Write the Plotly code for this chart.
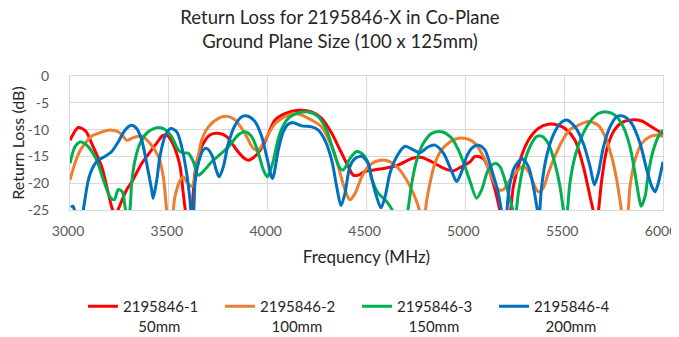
import plotly.graph_objects as go

# ---------------- data ----------------
red_f = [3000, 3042, 3080, 3110, 3160, 3194, 3216, 3230, 3245, 3265, 3290, 3312, 3363, 3413, 3445, 3470,
         3495, 3520, 3540, 3557, 3573, 3585, 3600, 3615, 3632, 3649, 3674, 3708, 3750, 3793, 3843, 3880,
         3902, 3944, 3986, 4037, 4088, 4155, 4223, 4273, 4324, 4366, 4408, 4433, 4459, 4492, 4543, 4594,
         4661, 4729, 4779, 4830, 4889, 4939, 4982, 5024, 5049, 5091, 5125, 5159, 5176, 5195, 5215, 5228,
         5243, 5277, 5319, 5369, 5420, 5470, 5504, 5555, 5597, 5631, 5648, 5660, 5673, 5690, 5715, 5749,
         5791, 5842, 5892, 5943, 6000]
red_db = [-12.0, -9.6, -10.3, -12.6, -16.9, -21.9, -25.0, -25.8, -24.8, -23.0, -21.0, -19.8, -16.3, -13.8, -12.2, -11.1,
          -11.2, -12.6, -14.5, -16.9, -21.9, -25.3, -27.5, -25.3, -18.1, -15.0, -12.6, -11.0, -10.7, -11.3, -13.8, -15.3,
          -15.7, -14.7, -12.3, -8.2, -7.0, -6.4, -6.7, -7.9, -10.7, -13.8, -16.9, -18.5, -18.5, -17.8, -17.5, -17.2,
          -16.6, -15.4, -15.2, -16.0, -17.2, -17.7, -16.9, -16.0, -15.0, -15.4, -18.1, -22.5, -25.3, -28.0, -27.0, -25.3,
          -20.6, -15.7, -12.0, -9.8, -9.0, -9.2, -9.8, -12.0, -16.9, -22.5, -25.3, -28.0, -25.3, -19.4, -13.8, -10.4,
          -8.7, -8.2, -8.4, -9.5, -10.8]

orange_f = [3000, 3025, 3050, 3076, 3110, 3143, 3194, 3244, 3270, 3287, 3320, 3363, 3405, 3447, 3472, 3489,
            3500, 3515, 3531, 3557, 3573, 3590, 3615, 3624, 3640, 3666, 3700, 3750, 3793, 3835, 3885, 3927,
            3953, 3986, 4037, 4104, 4155, 4206, 4273, 4324, 4357, 4391, 4416, 4442, 4476, 4509, 4543, 4594,
            4619, 4661, 4703, 4737, 4762, 4780, 4795, 4805, 4821, 4846, 4880, 4922, 4965, 5015, 5049, 5091,
            5133, 5167, 5192, 5226, 5268, 5293, 5319, 5352, 5369, 5394, 5420, 5453, 5487, 5529, 5555, 5622,
            5673, 5707, 5740, 5766, 5782, 5800, 5816, 5833, 5858, 5892, 5934, 5976, 6000]
orange_db = [-19.4, -16.3, -14.0, -12.6, -11.2, -10.7, -10.1, -10.4, -11.3, -12.0, -11.5, -11.2, -12.6, -15.0, -18.8, -25.0,
             -28.0, -27.0, -22.5, -19.5, -18.8, -19.7, -20.6, -20.2, -16.9, -12.0, -9.5, -7.9, -7.5, -8.2, -10.7, -13.5,
             -13.8, -12.0, -8.9, -7.3, -7.1, -7.9, -9.5, -13.2, -16.9, -21.2, -23.1, -21.9, -18.8, -16.9, -16.0, -15.7,
             -16.0, -17.2, -19.4, -21.9, -24.3, -26.5, -25.5, -23.1, -20.0, -16.3, -13.8, -12.3, -11.6, -11.8, -12.6, -15.0,
             -18.8, -21.2, -21.2, -19.4, -17.5, -16.9, -17.8, -20.6, -21.6, -20.9, -18.1, -15.0, -12.3, -10.0, -9.5, -8.5,
             -9.2, -11.3, -15.0, -19.4, -23.1, -26.5, -26.5, -20.6, -15.7, -12.6, -11.3, -11.0, -11.3]

green_f = [3000, 3025, 3051, 3070, 3093, 3135, 3169, 3202, 3224, 3244, 3265, 3278, 3290, 3303, 3312, 3329,
           3354, 3396, 3447, 3481, 3514, 3548, 3573, 3599, 3624, 3649, 3674, 3717, 3767, 3809, 3851, 3885,
           3919, 3953, 3978, 3998, 4015, 4029, 4062, 4104, 4155, 4206, 4256, 4298, 4332, 4366, 4383, 4416,
           4450, 4484, 4509, 4526, 4560, 4594, 4619, 4636, 4660, 4690, 4708, 4729, 4754, 4787, 4830, 4880,
           4931, 4965, 4998, 5024, 5057, 5083, 5116, 5150, 5175, 5200, 5226, 5243, 5252, 5268, 5293, 5327,
           5361, 5386, 5420, 5453, 5479, 5496, 5505, 5515, 5529, 5555, 5589, 5631, 5673, 5715, 5757, 5799,
           5833, 5858, 5875, 5889, 5909, 5926, 5951, 5985, 6000]
green_db = [-16.3, -13.2, -12.3, -12.5, -13.2, -15.7, -19.4, -22.5, -23.1, -21.2, -21.6, -24.3, -27.0, -25.0, -20.0, -15.7,
            -12.6, -10.4, -9.6, -10.0, -11.3, -13.8, -14.4, -14.4, -16.0, -18.5, -17.8, -16.0, -14.4, -12.9, -11.0, -10.4,
            -11.3, -14.4, -17.5, -18.8, -17.5, -15.7, -10.7, -7.9, -6.9, -6.7, -7.6, -10.1, -13.8, -17.2, -17.5, -15.4,
            -14.1, -14.7, -16.3, -19.1, -21.9, -23.1, -24.3, -25.5, -28.0, -28.0, -25.3, -20.0, -15.7, -12.6, -10.7, -10.4,
            -11.6, -13.8, -16.9, -19.7, -22.8, -21.2, -17.5, -16.3, -16.9, -19.4, -23.1, -25.3, -26.5, -21.9, -16.9, -13.2,
            -11.3, -11.2, -12.6, -16.3, -20.6, -25.0, -27.0, -25.5, -20.0, -15.0, -11.3, -8.5, -7.0, -6.7, -7.3, -9.5,
            -13.2, -18.1, -21.9, -24.3, -22.5, -18.1, -13.8, -10.7, -10.1]

blue_f = [3005, 3015, 3030, 3050, 3067, 3093, 3118, 3143, 3177, 3211, 3244, 3278, 3312, 3337, 3363, 3388,
          3413, 3421, 3439, 3455, 3481, 3510, 3540, 3565, 3590, 3607, 3615, 3622, 3632, 3649, 3674, 3691,
          3717, 3742, 3755, 3776, 3801, 3835, 3869, 3902, 3936, 3970, 3995, 4024, 4054, 4079, 4104, 4130,
          4172, 4223, 4256, 4290, 4324, 4349, 4371, 4391, 4416, 4442, 4476, 4509, 4526, 4551, 4573, 4594,
          4619, 4653, 4695, 4737, 4771, 4813, 4846, 4889, 4931, 4956, 4982, 5007, 5032, 5066, 5099, 5133,
          5167, 5188, 5200, 5210, 5218, 5243, 5268, 5288, 5319, 5344, 5360, 5372, 5386, 5411, 5445, 5479,
          5512, 5555, 5597, 5631, 5653, 5673, 5699, 5732, 5766, 5799, 5842, 5884, 5918, 5943, 5960, 5976,
          6000]
blue_db = [-24.5, -24.3, -26.0, -28.0, -25.0, -19.4, -16.9, -15.7, -15.0, -14.1, -12.3, -10.1, -9.2, -9.8, -12.0, -16.3,
           -21.2, -22.8, -19.4, -15.0, -11.2, -9.8, -10.4, -13.2, -18.1, -23.1, -26.0, -26.0, -20.0, -16.3, -13.8, -13.5,
           -14.7, -17.8, -18.8, -16.9, -12.6, -9.2, -7.6, -7.5, -8.5, -11.3, -15.0, -19.1, -13.8, -10.4, -9.0, -8.7,
           -9.3, -9.5, -10.1, -12.0, -15.7, -20.6, -24.2, -21.9, -16.9, -15.4, -15.0, -16.3, -19.1, -22.5, -24.6, -22.5,
           -18.1, -15.0, -13.1, -13.8, -14.3, -13.2, -12.9, -14.4, -17.8, -19.7, -17.8, -15.0, -13.5, -12.9, -13.8, -17.5,
           -21.9, -26.0, -27.0, -25.3, -21.9, -17.5, -16.0, -15.5, -16.9, -20.6, -24.0, -26.5, -20.6, -15.0, -11.0, -8.9,
           -8.2, -9.5, -12.6, -16.9, -20.3, -18.1, -13.2, -9.5, -7.6, -7.5, -8.9, -12.6, -17.5, -20.6, -21.6, -20.0,
           -16.0]

series_names = ["2195846-1<br>\u00a0\u00a0\u00a0\u00a050mm",
                "2195846-2<br>\u00a0\u00a0\u00a0100mm",
                "2195846-3<br>\u00a0\u00a0\u00a0150mm",
                "2195846-4<br>\u00a0\u00a0\u00a0200mm"]
series_colors = ["#FF0000", "#ED7D31", "#00B050", "#0070C0"]
x_ticks = [3000, 3500, 4000, 4500, 5000, 5500, 6000]
y_ticks = [0, -5, -10, -15, -20, -25]

title_text = "Return Loss for 2195846-X in Co-Plane<br>Ground Plane Size (100 x 125mm)"
x_title = "Frequency (MHz)"
y_title = "Return Loss (dB)"

FONT = "Lato, 'Open Sans', sans-serif"

# the page body has an 8 px margin: the figure is offset by 8 px
W, H = 679, 329

fig = go.Figure()
for f, d, name, col in zip([red_f, orange_f, green_f, blue_f],
                           [red_db, orange_db, green_db, blue_db],
                           series_names, series_colors):
    fig.add_trace(go.Scatter(x=f, y=d, mode="lines", name=name,
                             line=dict(color=col, width=3, shape="spline", smoothing=0.8)))

fig.update_layout(
    width=W, height=H,
    margin=dict(l=62, r=24, t=68, b=127, autoexpand=False),
    paper_bgcolor="white", plot_bgcolor="white",
    font=dict(family=FONT, color="#595959", size=14),
    title=dict(text=title_text, x=(340 - 8) / W, xanchor="center", xref="container",
               y=1 - 16 / H, yanchor="top", yref="container",
               font=dict(family=FONT, size=18.5, color="#262626")),
    showlegend=True,
    legend=dict(orientation="h", xref="container", yref="container",
                x=75 / W, xanchor="left", y=1 - 282 / H, yanchor="top",
                entrywidth=92, entrywidthmode="pixels", valign="top",
                font=dict(family=FONT, size=15, color="#262626"),
                itemwidth=30, tracegroupgap=0),
)
fig.update_xaxes(range=[3000, 6000], tickvals=x_ticks, ticktext=[str(v) for v in x_ticks],
                 showgrid=True, gridcolor="#d9d9d9", gridwidth=1, zeroline=False,
                 showline=True, linecolor="#d9d9d9", linewidth=1, mirror=True,
                 automargin=False, ticklabeloverflow="allow", ticklabelstandoff=8,
                 ticklabelshift=-2,
                 ticks="", tickfont=dict(size=14, color="#595959"),
                 title=dict(text=x_title, standoff=13, font=dict(size=17, color="#262626")))
fig.update_yaxes(range=[-25, 0], tickvals=y_ticks, ticktext=[str(v) for v in y_ticks],
                 showgrid=True, gridcolor="#d9d9d9", gridwidth=1, zeroline=False,
                 showline=True, linecolor="#d9d9d9", linewidth=1, mirror=True,
                 automargin=False, ticklabelstandoff=17,
                 ticks="", tickfont=dict(size=14, color="#595959"),
                 title=dict(text=y_title, standoff=0, font=dict(size=16, color="#262626")))

fig.write_html("out.html")
